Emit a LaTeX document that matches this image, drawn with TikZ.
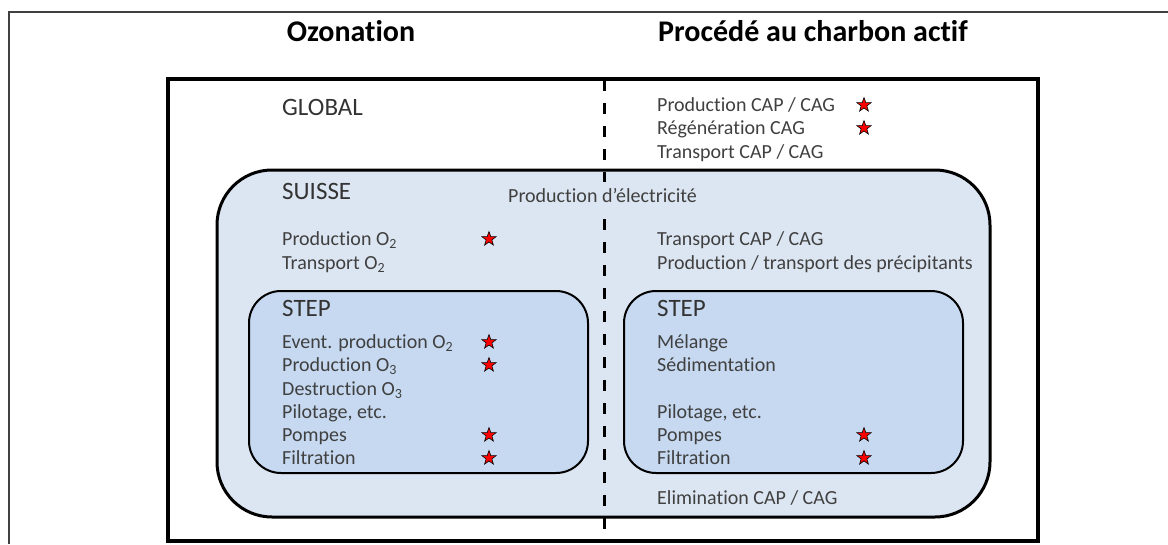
\documentclass[tikz,border=0pt]{standalone}
\usepackage{fontspec}
\setmainfont{Carlito}[Ligatures={NoCommon}]
\usetikzlibrary{shapes.geometric}
\definecolor{suissefill}{RGB}{220,230,242}
\definecolor{stepfill}{RGB}{198,217,241}
\begin{document}
\begin{tikzpicture}[x=1pt, y=-1pt,
    titre/.style={font=\fontsize{30}{36}\selectfont\bfseries, anchor=base, inner sep=0},
    niveau/.style={font=\fontsize{25}{30}\selectfont, text=black!80, anchor=base west, inner sep=0},
    poste/.style={font=\fontsize{20}{24}\selectfont, text=black!75, anchor=base west, inner sep=0},
    etoile/.style={star, star points=5, star point ratio=2.5, minimum size=15pt, inner sep=0,
      fill=red, draw=black, line width=0.6pt}]
    \useasboundingbox (0, 0) rectangle (1168, 544);
    % cadre
    \draw[black!75, line width=1.5pt] (1168, 12) -- (9, 12) -- (9, 544);
    \node[titre] (ozo) at (351, 41) {Ozonation};
    \node[titre] (cha) at (813, 41) {Procédé au charbon actif};
    % niveaux
    \draw[line width=4pt] (168, 79) rectangle (1038, 541);
    \draw[fill=suissefill, line width=3pt, rounded corners=55pt] (217, 170) rectangle (990, 517);
    \draw[fill=stepfill, line width=2pt, rounded corners=32pt] (249, 291) rectangle (588, 473);
    \draw[fill=stepfill, line width=2pt, rounded corners=32pt] (624, 291) rectangle (963, 473);
    % separation
    \coordinate (sephaut) at (604, 80);
    \coordinate (sepa) at (604, 182);
    \coordinate (sepb) at (604, 219);
    \coordinate (sepbas) at (604, 540);
    \draw[line width=3pt, dash pattern=on 11pt off 12pt] (sephaut) -- (sepa);
    \draw[line width=3pt, dash pattern=on 11pt off 12pt] (sepb) -- (sepbas);
    \node[niveau] (glob) at (282, 115) {GLOBAL};
    \node[niveau] (sui) at (282, 199) {SUISSE};
    \node[niveau] (stepo) at (282, 316) {STEP};
    \node[niveau] (stepc) at (657, 316) {STEP};
    \node[poste] (elec) at (508, 202) {Production d’électricité};
    % ozonation
    \node[poste] (po2) at (282, 245) {Production O\textsubscript{2}};
    \node[poste] (to2) at (282, 269) {Transport O\textsubscript{2}};
    \node[poste] (eo2) at (282, 348) {Event. production O\textsubscript{2}};
    \node[poste] (po3) at (282, 371) {Production O\textsubscript{3}};
    \node[poste] (do3) at (282, 395) {Destruction O\textsubscript{3}};
    \node[poste] (pilo) at (282, 418) {Pilotage, etc.};
    \node[poste] (pomo) at (282, 441) {Pompes};
    \node[poste] (filo) at (282, 464) {Filtration};
    \node[etoile] (s1) at (489, 239) {};
    \node[etoile] (s2) at (489, 342) {};
    \node[etoile] (s3) at (489, 365) {};
    \node[etoile] (s4) at (489, 435) {};
    \node[etoile] (s5) at (489, 458) {};
    % charbon actif
    \node[poste] (pcap) at (657, 111) {Production CAP / CAG};
    \node[poste] (rcag) at (657, 134) {Régénération CAG};
    \node[poste] (tcap) at (657, 158) {Transport CAP / CAG};
    \node[poste] (tcaps) at (657, 245) {Transport CAP / CAG};
    \node[poste] (prec) at (657, 269) {Production / transport des précipitants};
    \node[poste] (mel) at (657, 348) {Mélange};
    \node[poste] (sed) at (657, 371) {Sédimentation};
    \node[poste] (pilc) at (657, 418) {Pilotage, etc.};
    \node[poste] (pomc) at (657, 441) {Pompes};
    \node[poste] (filc) at (657, 464) {Filtration};
    \node[poste] (elim) at (657, 504) {Elimination CAP / CAG};
    \node[etoile] (s6) at (864, 105) {};
    \node[etoile] (s7) at (864, 128) {};
    \node[etoile] (s8) at (864, 435) {};
    \node[etoile] (s9) at (864, 458) {};
  \end{tikzpicture}
\end{document}
